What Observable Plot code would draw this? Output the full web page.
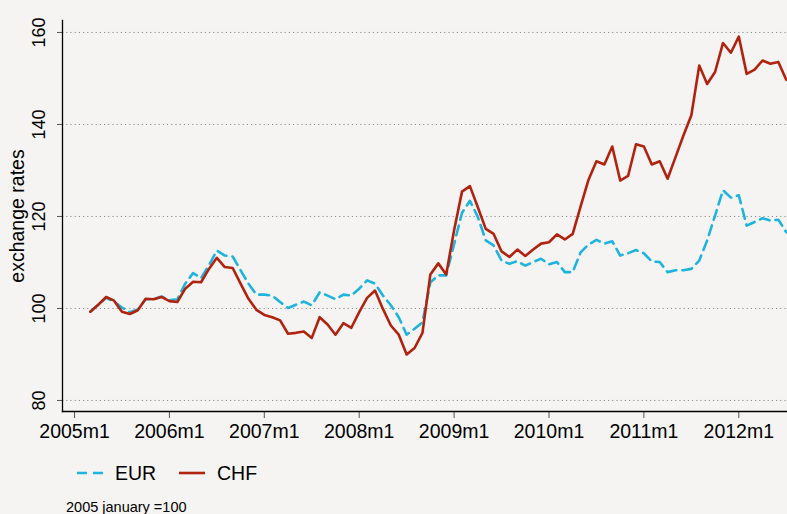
<!DOCTYPE html>
<html><head><meta charset="utf-8">
<script src="https://cdn.jsdelivr.net/npm/d3@7"></script>
<script src="https://cdn.jsdelivr.net/npm/@observablehq/plot@0.6"></script>
<style>
html,body{margin:0;padding:0;background:#f5f4f2;}
#wrap{position:relative;width:787px;height:514px;overflow:hidden;background:#f5f4f2;font-family:"Liberation Sans",Arial,sans-serif;color:#000;}
#chart{position:absolute;left:0;top:0;}
.leg{position:absolute;top:460px;height:26px;line-height:26px;font-size:19.5px;}
#caption{position:absolute;left:66px;top:498px;font-size:14.5px;line-height:18px;}
</style></head><body>
<div id="wrap"><div id="chart"></div>
<div id="legend"></div>
<div id="caption">2005 january =100</div></div>
<script>
// first observation: 2005m3, monthly
const startYear = 2005, startMonth = 3;
const eur = [
 99.3,100.8,102.3,101.5,100.2,99.2,99.8,102.0,102.0,102.6,
 101.8,102.0,105.4,107.7,106.6,109.4,112.6,111.5,111.3,108.3,105.4,103.0,
 103.0,102.8,101.4,100.1,100.8,101.5,100.7,103.5,102.8,102.0,103.0,102.8,
 104.3,106.1,105.4,102.8,100.7,98.1,94.3,95.6,97.0,105.7,107.2,107.2,
 114.0,120.8,123.4,119.9,114.8,113.7,110.4,109.7,110.3,109.3,110.1,110.8,
 109.6,110.1,107.9,107.9,112.2,113.9,114.9,114.1,114.6,111.5,112.0,112.7,
 112.0,110.2,110.1,107.9,108.3,108.3,108.6,110.4,114.8,120.2,125.7,124.1,
 124.6,118.0,118.8,119.6,119.1,119.3,116.6
];
const chf = [
 99.3,100.8,102.5,101.7,99.3,98.8,99.6,102.1,102.0,102.5,
 101.6,101.4,104.3,105.8,105.7,108.6,111.0,109.0,108.8,105.4,102.1,99.7,
 98.6,98.1,97.4,94.5,94.7,95.0,93.6,98.1,96.5,94.3,96.8,95.8,
 99.2,102.3,103.9,99.9,96.3,94.3,90.0,91.4,94.7,107.4,109.8,107.4,
 117.0,125.4,126.6,122.0,117.3,116.2,112.4,111.2,112.8,111.4,112.8,114.1,
 114.4,116.1,115.0,116.2,122.2,128.0,132.0,131.3,135.2,127.8,128.8,135.7,
 135.2,131.3,132.0,128.2,132.9,137.6,142.0,152.8,148.8,151.4,157.7,155.6,
 159.1,151.0,151.9,153.9,153.2,153.6,149.7
];
const yTicks = [80, 100, 120, 140, 160];
const xTickYears = [2005, 2006, 2007, 2008, 2009, 2010, 2011, 2012];
const seriesNames = ["EUR", "CHF"];
const colors = {EUR: "#1db5de", CHF: "#b2230f"};
const yLabel = "exchange rates";

const monthIndex = (y, m) => (y - 2005) * 12 + (m - 1);
const t0 = monthIndex(startYear, startMonth);
const eurData = eur.map((v, i) => ({t: t0 + i, v}));
const chfData = chf.map((v, i) => ({t: t0 + i, v}));
const xTicks = xTickYears.map(y => monthIndex(y, 1));

const plot = Plot.plot({
  width: 787, height: 446,
  marginTop: 20, marginBottom: 35, marginLeft: 62, marginRight: 0,
  style: {background: "transparent", fontFamily: "Liberation Sans, Arial, sans-serif", overflow: "visible"},
  x: {domain: [-1.52, 90.16], axis: null},
  y: {domain: [77.6, 162.6], axis: null},
  marks: [
    Plot.gridY(yTicks, {stroke: "#8c8c8c", strokeOpacity: 1, strokeWidth: 1, strokeDasharray: "1.2,3"}),
    Plot.line(eurData, {x: "t", y: "v", stroke: colors.EUR, strokeWidth: 2.6, strokeDasharray: "10,6"}),
    Plot.line(chfData, {x: "t", y: "v", stroke: colors.CHF, strokeWidth: 2.6}),
    Plot.axisY(yTicks, {tickSize: 5, stroke: "#555", tickFormat: () => "", label: null}),
    Plot.text(yTicks, {y: d => d, text: d => String(d), frameAnchor: "left", dx: -23.7, rotate: -90, textAnchor: "middle", lineAnchor: "middle", fontSize: 18, fill: "#000"}),
    Plot.text([yLabel], {frameAnchor: "left", text: d => d, dx: -45, rotate: -90, textAnchor: "middle", lineAnchor: "middle", fontSize: 19.5, fill: "#000"}),
    Plot.axisX(xTicks, {tickSize: 7, tickPadding: 5.3, stroke: "#555", fill: "#000", fontSize: 19.5, label: null,
      tickFormat: t => (2005 + t / 12) + "m1"}),
    Plot.frame({anchor: "left", stroke: "#000", strokeWidth: 1.3}),
    Plot.frame({anchor: "bottom", stroke: "#000", strokeWidth: 1.3})
  ]
});
document.getElementById("chart").appendChild(plot);

// legend
const leg = document.getElementById("legend");
const legPos = {EUR: {line: 77, text: 115}, CHF: {line: 179, text: 217}};
seriesNames.forEach(name => {
  const sw = document.createElementNS("http://www.w3.org/2000/svg", "svg");
  sw.setAttribute("width", 28); sw.setAttribute("height", 26);
  sw.style.position = "absolute"; sw.style.left = legPos[name].line + "px"; sw.style.top = "460px";
  const ln = document.createElementNS("http://www.w3.org/2000/svg", "line");
  ln.setAttribute("x1", 0); ln.setAttribute("x2", 26); ln.setAttribute("y1", 13); ln.setAttribute("y2", 13);
  ln.setAttribute("stroke", colors[name]); ln.setAttribute("stroke-width", 2.6);
  if (name === "EUR") ln.setAttribute("stroke-dasharray", "10,6");
  sw.appendChild(ln);
  leg.appendChild(sw);
  const tx = document.createElement("div");
  tx.className = "leg"; tx.style.left = legPos[name].text + "px"; tx.textContent = name;
  leg.appendChild(tx);
});
</script>
</body></html>
